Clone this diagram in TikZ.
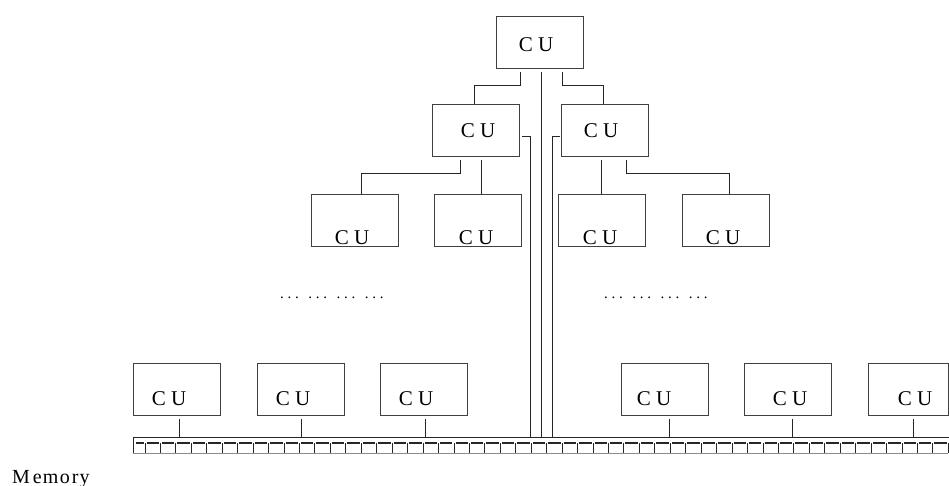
\documentclass[tikz,border=0pt]{standalone}
\usepackage{fontspec}
\setmainfont{Liberation Serif}
\begin{document}
\begin{tikzpicture}[x=1pt,y=-1pt,
  box/.style={draw=black!75, line width=0.9pt, minimum width=87pt,
    minimum height=52pt, inner sep=0pt, anchor=north west},
  cu/.style={font=\fontsize{21}{21}\selectfont, inner sep=0pt, anchor=base},
  conn/.style={draw=black!85, line width=0.9pt},
  busline/.style={draw=black!85, line width=1pt},
  dotrow/.style={font=\fontsize{15}{15}\selectfont, inner sep=0pt, anchor=base west},
]
\useasboundingbox (0,0) rectangle (949,486);
\newcommand\dotgroup{.\kern3.75pt.\kern3.75pt.}

% control units: root, second level, third level
\node[box] (top)  at (496,16)  {};
\node[box] (midL) at (432,104) {};
\node[box] (midR) at (561,104) {};
\node[box] (l1) at (311,194) {};
\node[box] (l2) at (434,194) {};
\node[box] (l3) at (558,194) {};
\node[box] (l4) at (682,194) {};
% control units of the last level
\node[box] (b1) at (133,363) {};
\node[box] (b2) at (257,363) {};
\node[box] (b3) at (380,363) {};
\node[box] (b4) at (621,363) {};
\node[box] (b5) at (744,363) {};
\node[box, minimum width=80pt] (b6) at (868,363) {};

% labels
\node[cu] (topt)  at (536,52)  {C U};
\node[cu] (midLt) at (478,138) {C U};
\node[cu] (midRt) at (601,138) {C U};
\node[cu] (l1t) at (352,244) {C U};
\node[cu] (l2t) at (476,244) {C U};
\node[cu] (l3t) at (600,244) {C U};
\node[cu] (l4t) at (723,244) {C U};
\node[cu] (b1t) at (169,405) {C U};
\node[cu] (b2t) at (293,405) {C U};
\node[cu] (b3t) at (416,405) {C U};
\node[cu] (b4t) at (654,405) {C U};
\node[cu] (b5t) at (790,405) {C U};
\node[cu] (b6t) at (915,405) {C U};

% ellipses between levels
\node[dotrow] (dotsL) at (280,298.5) {\dotgroup\hspace{9.5pt}\dotgroup\hspace{9.5pt}\dotgroup\hspace{9.5pt}\dotgroup};
\node[dotrow] (dotsR) at (604,298.5) {\dotgroup\hspace{9.5pt}\dotgroup\hspace{9.5pt}\dotgroup\hspace{9.5pt}\dotgroup};

% memory bus
\node[inner sep=0pt, outer sep=0pt, minimum width=816pt, minimum height=16pt,
  anchor=north west] (bus) at (133,437) {};
\draw[busline] (bus.north west) -- (bus.north east);
\draw[busline] (bus.north west) -- (bus.south west);
\draw[black!85, line width=1.6pt] (135.5,443) -- (143.5,443);
\draw[black!45, line width=1pt] (133,453.5) -- (145,453.5);
\foreach \k in {0,...,51}{
  \pgfmathsetmacro\xa{145+15.45*\k}
  \draw[black!85, line width=1pt] (\xa,443) -- (\xa,453);
  \draw[black!85, line width=1.6pt] (\xa+1.5,443) -- (\xa+13.9,443);
  \draw[black!45, line width=1pt] (\xa,453.5) -- (\xa+15.45,453.5);
}
\draw[black!85, line width=1pt] (948.4,443) -- (948.4,453);

% tree connections
\draw[conn, shorten <=3pt] (top.south -| 520,0) |- (474,85) -- (midL.north -| 474,0);
\draw[conn, shorten <=3pt] (top.south -| 562,0) |- (603,85) -- (midR.north -| 603,0);
\draw[conn, shorten <=3pt] (top.south -| 541,0) -- (bus.north -| 541,0);
\draw[conn, shorten <=2pt] (midL.east |- 0,136) -| (bus.north -| 530,0);
\draw[conn, shorten <=1pt] (midR.west |- 0,136) -| (bus.north -| 552,0);
\draw[conn, shorten <=3pt] (midL.south -| 460,0) |- (361,173) -- (l1.north -| 361,0);
\draw[conn, shorten <=3pt] (midL.south -| 481,0) -- (l2.north -| 481,0);
\draw[conn, shorten <=3pt] (midR.south -| 601,0) -- (l3.north -| 601,0);
\draw[conn, shorten <=3pt] (midR.south -| 626,0) |- (729,173) -- (l4.north -| 729,0);

% last level to memory
\draw[conn, shorten <=3pt] (b1.south -| 179,0) -- (bus.north -| 179,0);
\draw[conn, shorten <=3pt] (b2.south -| 301,0) -- (bus.north -| 301,0);
\draw[conn, shorten <=3pt] (b3.south -| 425,0) -- (bus.north -| 425,0);
\draw[conn, shorten <=3pt] (b4.south -| 669,0) -- (bus.north -| 669,0);
\draw[conn, shorten <=3pt] (b5.south -| 792,0) -- (bus.north -| 792,0);
\draw[conn, shorten <=3pt] (b6.south -| 913,0) -- (bus.north -| 913,0);

\node[inner sep=0pt, anchor=base west, font=\fontsize{20}{20}\selectfont] (mem)
  at (12,483) {M\kern3pt e\kern1pt m\kern1.5pt o\kern2pt r\kern1pt y};
\end{tikzpicture}
\end{document}
